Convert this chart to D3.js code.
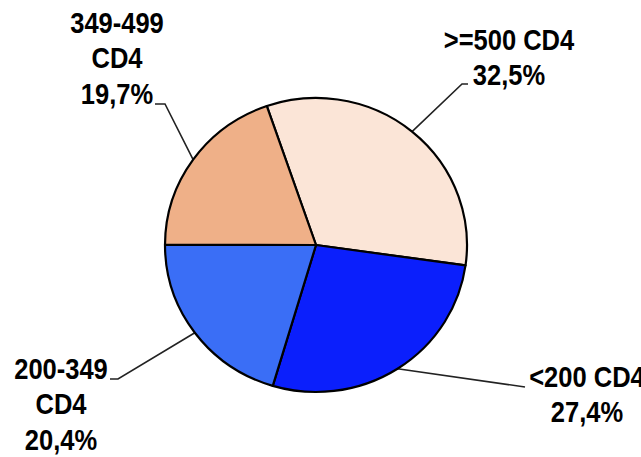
<!DOCTYPE html>
<html><head><meta charset="utf-8">
<script src="https://cdn.jsdelivr.net/npm/d3@7"></script>
<style>html,body{margin:0;padding:0;background:#fff;overflow:hidden}</style>
</head><body>
<script>
const categories = [">=500 CD4", "<200 CD4", "200-349 CD4", "349-499 CD4"];
const values = [32.5, 27.4, 20.4, 19.7];
const valueLabels = ["32,5%", "27,4%", "20,4%", "19,7%"];
const labelLines = [[">=500 CD4", "32,5%"], ["<200 CD4", "27,4%"], ["200-349", "CD4", "20,4%"], ["349-499", "CD4", "19,7%"]];
const colors = ["#FBE5D7", "#0B1FFC", "#3A6EF6", "#EFB088"];

// layout (positions, not data)
const W = 641, H = 457, cx = 316, cy = 245, rx = 151, ry = 147;
const layout = [
  {elbow: [462, 84], end: [468, 84], tx: 509, ty: 50, anchor: "middle"},
  {elbow: null, end: [525, 387], tx: 587, ty: 387, anchor: "middle"},
  {elbow: [118, 379], end: [110, 379], tx: 61, ty: 379, anchor: "middle"},
  {elbow: [165, 104], end: [155, 104], tx: 117, ty: 33, anchor: "middle"}
];

const svg = d3.select("body").append("svg").attr("width", W).attr("height", H);
const pie = d3.pie().sort(null).startAngle(-19 * Math.PI / 180).endAngle((360 - 19) * Math.PI / 180);
const arcs = pie(values);
const arc = d3.arc().innerRadius(0).outerRadius(rx);

// leader lines
const lineG = svg.append("g");
arcs.forEach((a, i) => {
  const m = (a.startAngle + a.endAngle) / 2;
  const p0 = [cx + rx * Math.sin(m), cy - ry * Math.cos(m)];
  const L = layout[i];
  const pts = [p0];
  if (L.elbow) pts.push(L.elbow);
  pts.push(L.end);
  lineG.append("path").attr("d", d3.line()(pts))
    .attr("fill", "none").attr("stroke", "#222").attr("stroke-width", 1.6);
});

const g = svg.append("g").attr("transform", `translate(${cx},${cy}) scale(1,${ry / rx})`);
g.selectAll("path").data(arcs).join("path")
  .attr("d", arc)
  .attr("fill", (d, i) => colors[i])
  .attr("stroke", "#000").attr("stroke-width", 2.2)
  .attr("vector-effect", "non-scaling-stroke")
  .attr("stroke-linejoin", "round");

// labels
labelLines.forEach((lines, i) => {
  const L = layout[i];
  const t = svg.append("g").attr("transform", `translate(${L.tx},${L.ty}) scale(0.88,1)`);
  lines.forEach((s, k) => {
    t.append("text").attr("x", 0).attr("y", k * 35.5)
      .attr("text-anchor", L.anchor)
      .attr("font-family", "Liberation Sans, Arial, sans-serif")
      .attr("font-weight", "bold").attr("font-size", 29)
      .attr("fill", "#000").text(s);
  });
});
</script>
</body></html>
